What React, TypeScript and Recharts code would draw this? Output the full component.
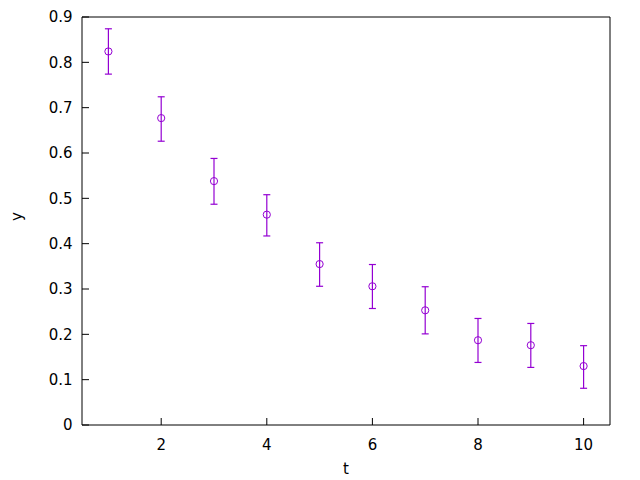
import React from 'react';
import { ScatterChart, Scatter, XAxis, YAxis, ErrorBar, Label } from 'recharts';

const tValues = [1, 2, 3, 4, 5, 6, 7, 8, 9, 10];
const yValues = [0.824, 0.677, 0.538, 0.464, 0.355, 0.306, 0.253, 0.187, 0.176, 0.130];
const errLow = [0.050, 0.051, 0.051, 0.047, 0.049, 0.049, 0.052, 0.049, 0.049, 0.049];
const errHigh = [0.050, 0.047, 0.050, 0.044, 0.047, 0.048, 0.052, 0.048, 0.048, 0.045];
const xTicks = [2, 4, 6, 8, 10];
const yTicks = [0, 0.1, 0.2, 0.3, 0.4, 0.5, 0.6, 0.7, 0.8, 0.9];

const data = tValues.map((t, i) => ({ t, y: yValues[i], err: [errLow[i], errHigh[i]] }));

const PURPLE = '#9400D3';
const FONT = { fontFamily: 'DejaVu Sans', fontSize: 15, fill: '#000' };

const Ring = (props: any) => {
  const { cx, cy } = props;
  return <circle cx={cx} cy={cy} r={3.6} fill="none" stroke={PURPLE} strokeWidth={1} />;
};

export default function App() {
  return (
    <div style={{ position: 'absolute', left: 0, top: 0, width: 640, height: 480, background: '#fff' }}>
      <ScatterChart width={640} height={480} margin={{ top: 7, right: 0, bottom: 0, left: 0 }}>
        <XAxis
          type="number"
          dataKey="t"
          xAxisId="bottom"
          orientation="bottom"
          domain={[0.5, 10.5]}
          allowDataOverflow
          ticks={xTicks}
          height={55}
          tickSize={-7}
          tickMargin={21}
          stroke="#000"
          tick={FONT}
          tickLine={{ stroke: '#000' }}
          axisLine={{ stroke: '#000' }}
        >
          <Label value="t" position="insideBottom" offset={6} style={FONT} />
        </XAxis>
        <XAxis
          type="number"
          dataKey="t"
          xAxisId="top"
          orientation="top"
          domain={[0.5, 10.5]}
          allowDataOverflow
          ticks={xTicks}
          height={10}
          tickSize={-7}
          tick={false}
          stroke="#000"
          tickLine={{ stroke: '#000' }}
          axisLine={{ stroke: '#000' }}
        />
        <YAxis
          type="number"
          dataKey="y"
          yAxisId="left"
          orientation="left"
          domain={[0, 0.9]}
          allowDataOverflow
          ticks={yTicks}
          width={82}
          tickSize={-7}
          tickMargin={16.5}
          stroke="#000"
          tick={FONT}
          tickLine={{ stroke: '#000' }}
          axisLine={{ stroke: '#000' }}
        >
          <Label value="y" position="insideLeft" offset={17} angle={-90} style={FONT} />
        </YAxis>
        <YAxis
          type="number"
          dataKey="y"
          yAxisId="right"
          orientation="right"
          domain={[0, 0.9]}
          allowDataOverflow
          ticks={yTicks}
          width={30}
          tickSize={-7}
          tick={false}
          stroke="#000"
          tickLine={{ stroke: '#000' }}
          axisLine={{ stroke: '#000' }}
        />
        <Scatter
          data={data}
          xAxisId="bottom"
          yAxisId="left"
          fill={PURPLE}
          shape={<Ring />}
          isAnimationActive={false}
        >
          <ErrorBar dataKey="err" direction="y" width={3.5} stroke={PURPLE} strokeWidth={1.2} isAnimationActive={false} />
        </Scatter>
      </ScatterChart>
    </div>
  );
}
